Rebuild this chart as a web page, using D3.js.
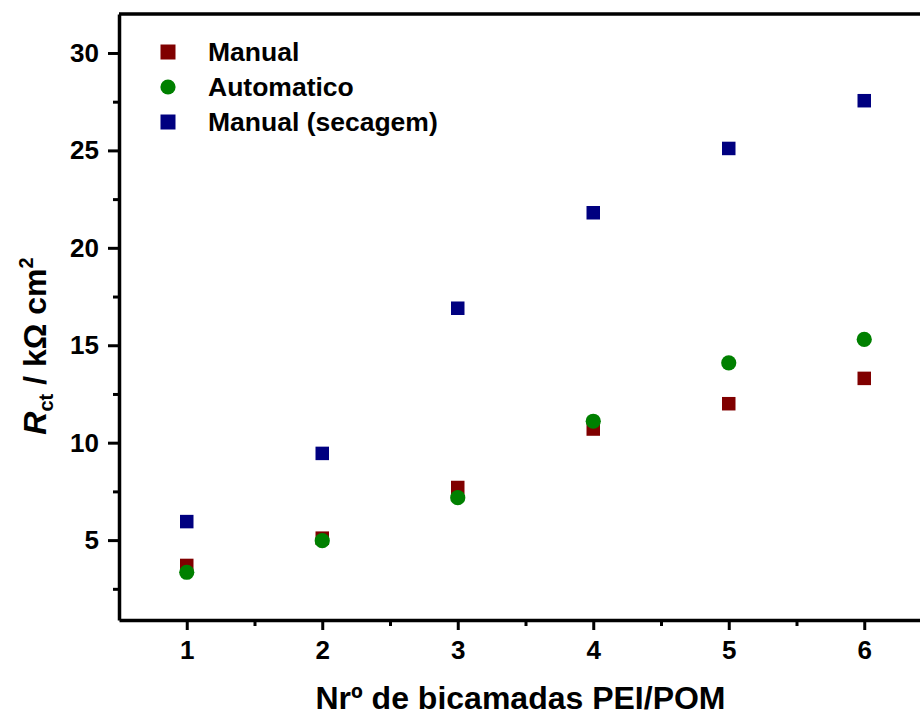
<!DOCTYPE html>
<html>
<head>
<meta charset="utf-8">
<script src="https://cdn.jsdelivr.net/npm/d3@7/dist/d3.min.js"></script>
<style>
  html, body { margin: 0; padding: 0; background: #fff; }
  svg { display: block; font-family: "Liberation Sans", Arial, sans-serif; font-weight: bold; }
</style>
</head>
<body>
<svg id="chart" width="920" height="716"></svg>
<script>
// Number of PEI/POM bilayers
const layers = [1, 2, 3, 4, 5, 6];
// Charge-transfer resistance, kΩ cm²
const manual = [3.7, 5.1, 7.7, 10.7, 12.0, 13.3];
const automatico = [3.35, 4.97, 7.18, 11.1, 14.1, 15.3];
const manualSecagem = [5.95, 9.45, 16.9, 21.8, 25.1, 27.55];

const seriesNames = ["Manual", "Automatico", "Manual (secagem)"];
const seriesColors = ["#800000", "#008000", "#000080"];
const seriesShapes = ["square", "circle", "square"];
const seriesValues = [manual, automatico, manualSecagem];

const yTicks = [5, 10, 15, 20, 25, 30];
const yMinorTicks = [2.5, 7.5, 12.5, 17.5, 22.5, 27.5];
const xMinorTicks = [1.5, 2.5, 3.5, 4.5, 5.5];

const svg = d3.select("#chart");
const plotLeft = 119, plotRight = 932, plotTop = 14, plotBottom = 620;

const x = d3.scaleLinear().domain([0.5, 6.5]).range([plotLeft, plotRight]);
const y = d3.scaleLinear().domain([0.9, 32]).range([plotBottom, plotTop]);

// Frame: top and right edges
svg.append("path")
  .attr("d", `M${plotLeft},${plotTop}H${plotRight}V${plotBottom}`)
  .attr("fill", "none").attr("stroke", "#000").attr("stroke-width", 3.5);

// Minor ticks
svg.append("g").attr("transform", `translate(0,${plotBottom})`)
  .call(d3.axisBottom(x).tickValues(xMinorTicks).tickSize(6).tickFormat(""))
  .call(g => g.select(".domain").remove())
  .call(g => g.selectAll("line").attr("stroke-width", 3));
svg.append("g").attr("transform", `translate(${plotLeft},0)`)
  .call(d3.axisLeft(y).tickValues(yMinorTicks).tickSize(6).tickFormat(""))
  .call(g => g.select(".domain").remove())
  .call(g => g.selectAll("line").attr("stroke-width", 3));

// Major axes
const xAxis = svg.append("g").attr("transform", `translate(0,${plotBottom})`)
  .call(d3.axisBottom(x).tickValues(layers).tickSize(10).tickPadding(11).tickSizeOuter(0).tickFormat(d3.format("d")));
const yAxis = svg.append("g").attr("transform", `translate(${plotLeft},0)`)
  .call(d3.axisLeft(y).tickValues(yTicks).tickSize(11).tickPadding(9).tickSizeOuter(0).tickFormat(d3.format("d")));

[xAxis, yAxis].forEach(a => {
  a.select(".domain").attr("stroke-width", 3.5);
  a.selectAll(".tick line").attr("stroke-width", 3);
  a.selectAll(".tick text")
    .attr("font-family", "'Liberation Sans', Arial, sans-serif")
    .attr("font-weight", "bold").attr("font-size", 26).attr("fill", "#000");
});

// Axis titles
svg.append("text")
  .attr("x", (plotLeft + plotRight) / 2 - 5).attr("y", 709)
  .attr("text-anchor", "middle").attr("font-size", 32)
  .text("Nrº de bicamadas PEI/POM");

const yTitle = svg.append("text")
  .attr("transform", "translate(46,346) rotate(-90)")
  .attr("text-anchor", "middle").attr("font-size", 32);
yTitle.append("tspan").attr("font-style", "italic").text("R");
yTitle.append("tspan").attr("font-size", 20).attr("dy", 7).text("ct");
yTitle.append("tspan").attr("dy", -7).text(" / kΩ cm");
yTitle.append("tspan").attr("font-size", 20).attr("dy", -13).text("2");

// Data markers
const symbolFor = (shape, size) => d3.symbol()
  .type(shape === "circle" ? d3.symbolCircle : d3.symbolSquare)
  .size(size);

seriesValues.forEach((vals, i) => {
  const shape = seriesShapes[i];
  svg.append("g").selectAll("path")
    .data(vals.map((v, j) => ({ x: layers[j], y: v })))
    .join("path")
    .attr("transform", d => `translate(${x(d.x)},${y(d.y)})`)
    .attr("d", symbolFor(shape, shape === "circle" ? Math.PI * 7.6 * 7.6 : 13.5 * 13.5)())
    .attr("fill", seriesColors[i]);
});

// Legend
const legend = svg.append("g");
seriesNames.forEach((name, i) => {
  const cy = 52 + i * 35;
  const shape = seriesShapes[i];
  legend.append("path")
    .attr("transform", `translate(168,${cy})`)
    .attr("d", symbolFor(shape, shape === "circle" ? Math.PI * 7.6 * 7.6 : 15 * 15)())
    .attr("fill", seriesColors[i]);
  legend.append("text")
    .attr("x", 208).attr("y", cy + 9)
    .attr("font-size", 26.5)
    .text(name);
});
</script>
</body>
</html>
